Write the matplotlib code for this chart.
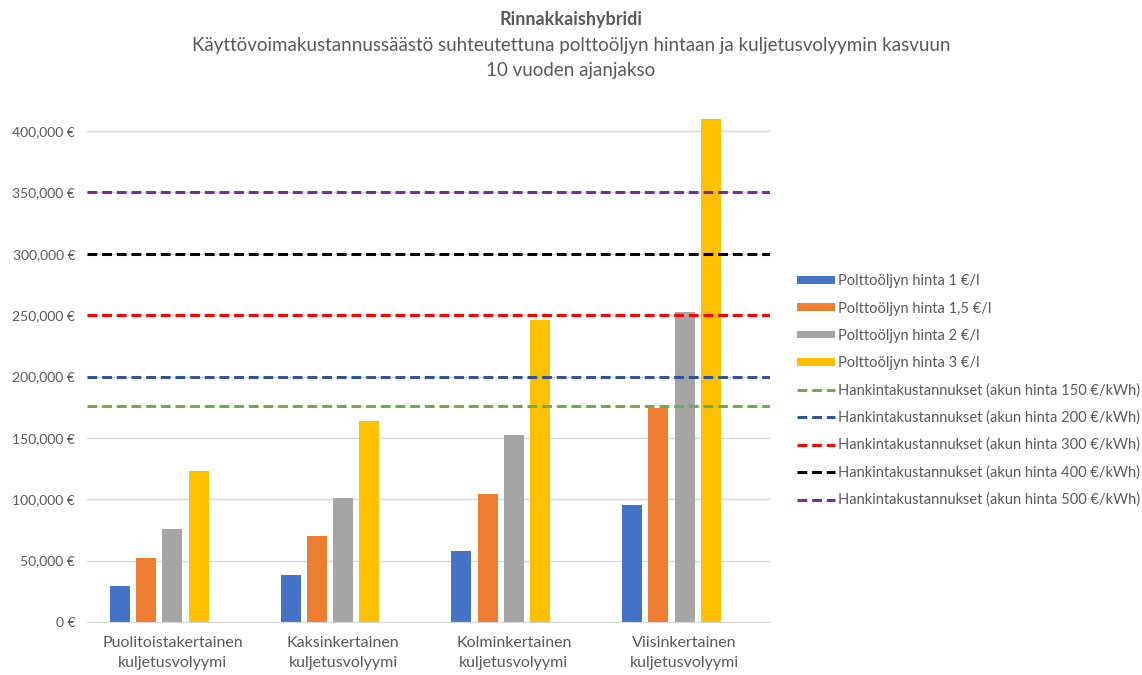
import numpy as np
import matplotlib.pyplot as plt
from matplotlib.ticker import FuncFormatter

plt.rcParams['font.family'] = ['Lato', 'DejaVu Sans']

# data
categories = ['Puolitoistakertainen\nkuljetusvolyymi', 'Kaksinkertainen\nkuljetusvolyymi',
              'Kolminkertainen\nkuljetusvolyymi', 'Viisinkertainen\nkuljetusvolyymi']
bar_labels = ['Polttoöljyn hinta 1 €/l', 'Polttoöljyn hinta 1,5 €/l',
              'Polttoöljyn hinta 2 €/l', 'Polttoöljyn hinta 3 €/l']
price_1 = [29000, 38000, 57500, 95000]
price_15 = [52000, 70000, 104700, 174000]
price_2 = [75600, 101200, 152000, 252500]
price_3 = [123000, 164000, 245800, 410000]
bar_values = [price_1, price_15, price_2, price_3]
bar_colors = ['#4472c4', '#ed7d31', '#a5a5a5', '#ffc000']

line_labels = ['Hankintakustannukset (akun hinta 150 €/kWh)',
               'Hankintakustannukset (akun hinta 200 €/kWh)',
               'Hankintakustannukset (akun hinta 300 €/kWh)',
               'Hankintakustannukset (akun hinta 400 €/kWh)',
               'Hankintakustannukset (akun hinta 500 €/kWh)']
line_values = [176000, 200000, 250000, 300000, 350000]
line_colors = ['#70ad47', '#2f5597', '#ff0000', '#000000', '#7030a0']

yticks = [0, 50000, 100000, 150000, 200000, 250000, 300000, 350000, 400000]

text_color = '#595959'

fig = plt.figure(figsize=(11.42, 6.75), dpi=100)
ax = fig.add_axes([0.0762, 0.0785, 0.598, 0.7545])

x = np.arange(len(categories))
width = 0.117
step = 0.1535
handles = []
# Excel cluster has 5 slots, the last one empty
for i, (vals, lab, col) in enumerate(zip(bar_values, bar_labels, bar_colors)):
    b = ax.bar(x + (i - 2) * step, vals, width, color=col, label=lab, zorder=2)
    handles.append(b)

for val, lab, col in zip(line_values, line_labels, line_colors):
    ln, = ax.plot([-0.5, len(categories) - 0.5], [val, val], color=col, lw=2.2,
                  dashes=(3.2, 1.6), label=lab, zorder=3)
    handles.append(ln)

ax.set_xlim(-0.5, len(categories) - 0.5)
ax.set_ylim(0, 415000)
ax.set_yticks(yticks)
ax.yaxis.set_major_formatter(FuncFormatter(
    lambda v, p: '0 €' if v == 0 else '{:,.0f} €'.format(v)))
ax.set_xticks(x)
ax.set_xticklabels(categories, fontsize=11.5, color=text_color, linespacing=1.55)
ax.tick_params(axis='y', length=0, labelsize=10, labelcolor=text_color, pad=8.5)
ax.tick_params(axis='x', length=0, pad=10)
ax.grid(axis='y', color='#d9d9d9', lw=1, zorder=0)
for s in ['top', 'right', 'left']:
    ax.spines[s].set_visible(False)
ax.spines['bottom'].set_color('#d9d9d9')

leg = ax.legend(handles=handles, loc='center left', bbox_to_anchor=(1.02, 0.454),
                frameon=False, fontsize=10.5, handlelength=2.6, handleheight=0.45,
                labelspacing=0.9, handletextpad=0.2, labelcolor=text_color)

fig.text(0.5, 0.971, 'Rinnakkaishybridi', ha='center', va='center',
         fontsize=13, fontweight='bold', color=text_color)
fig.text(0.5, 0.932, 'Käyttövoimakustannussäästö suhteutettuna polttoöljyn hintaan ja kuljetusvolyymin kasvuun',
         ha='center', va='center', fontsize=13.5, color=text_color)
fig.text(0.5, 0.896, '10 vuoden ajanjakso', ha='center', va='center',
         fontsize=13.5, color=text_color)

plt.savefig('out.png', dpi=100)
plt.close()
